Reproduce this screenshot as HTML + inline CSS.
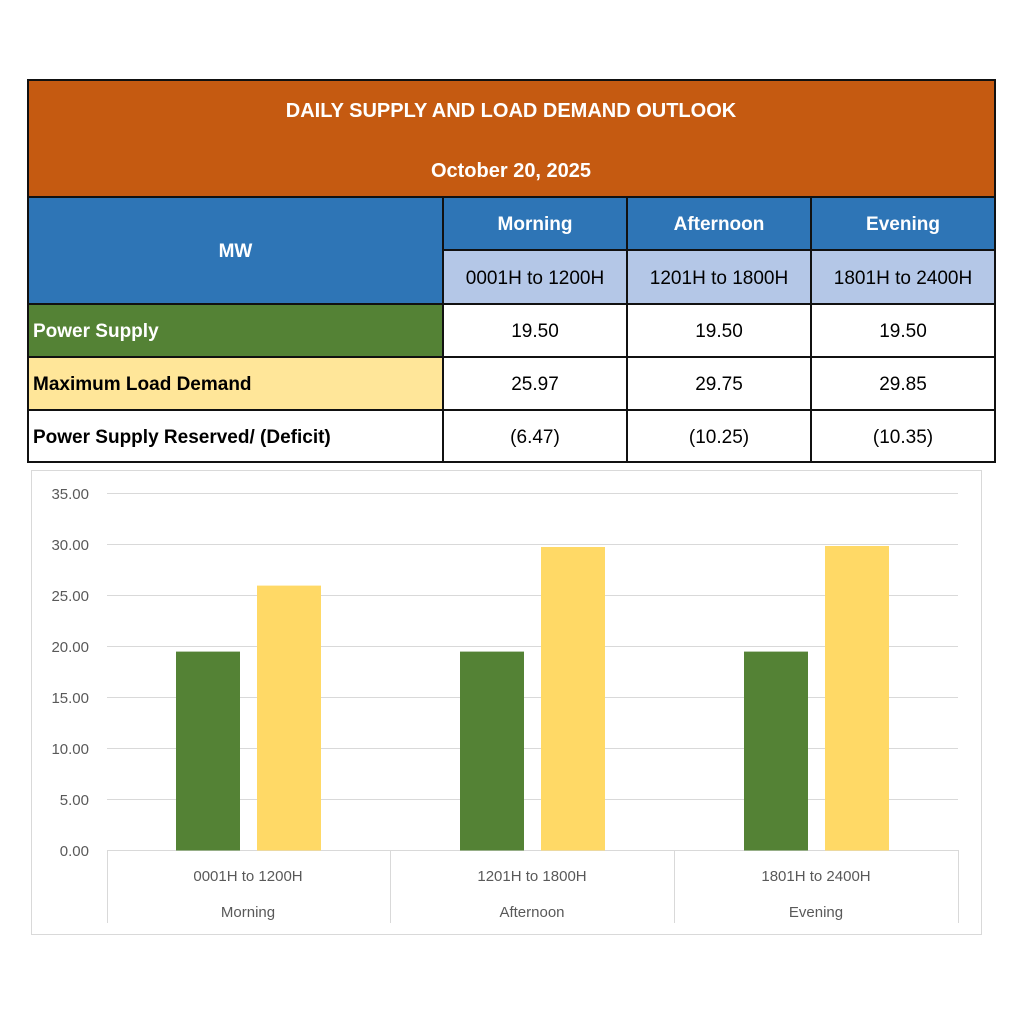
<!DOCTYPE html>
<html><head><style>
body{margin:0;width:1024px;height:1024px;background:#fff;position:relative;font-family:"Liberation Sans",sans-serif;overflow:hidden}
.c{position:absolute;box-sizing:border-box;display:flex;align-items:center;justify-content:center;font-size:19px;color:#000;padding-top:3px}
.b{font-weight:bold}
.l{justify-content:flex-start;padding-left:5px}
.ln{position:absolute;background:#111}
</style></head><body>
<div class="c b" style="left:28px;top:80px;width:966px;height:117px;background:#C55A11;color:#fff;flex-direction:column;font-size:20px;padding-top:6px"><div>DAILY SUPPLY AND LOAD DEMAND OUTLOOK</div><div style="margin-top:37px">October 20, 2025</div></div>
<div class="c b" style="left:28px;top:197px;width:415px;height:107px;background:#2E75B6;color:#fff">MW</div>
<div class="c b" style="left:443px;top:197px;width:551px;height:53px;background:#2E75B6"></div>
<div class="c b" style="left:443px;top:197px;width:184px;height:53px;color:#fff">Morning</div>
<div class="c b" style="left:627px;top:197px;width:184px;height:53px;color:#fff">Afternoon</div>
<div class="c b" style="left:811px;top:197px;width:184px;height:53px;color:#fff">Evening</div>
<div class="c" style="left:443px;top:250px;width:551px;height:54px;background:#B4C7E7"></div>
<div class="c" style="left:443px;top:250px;width:184px;height:54px">0001H to 1200H</div>
<div class="c" style="left:627px;top:250px;width:184px;height:54px">1201H to 1800H</div>
<div class="c" style="left:811px;top:250px;width:184px;height:54px">1801H to 2400H</div>
<div class="c b l" style="left:28px;top:304px;width:415px;height:53px;background:#548235;color:#fff">Power Supply</div>
<div class="c b l" style="left:28px;top:357px;width:415px;height:53px;background:#FFE699">Maximum Load Demand</div>
<div class="c b l" style="left:28px;top:410px;width:415px;height:52px">Power Supply Reserved/ (Deficit)</div>
<div class="c" style="left:443px;top:304px;width:184px;height:53px">19.50</div>
<div class="c" style="left:627px;top:304px;width:184px;height:53px">19.50</div>
<div class="c" style="left:811px;top:304px;width:184px;height:53px">19.50</div>
<div class="c" style="left:443px;top:357px;width:184px;height:53px">25.97</div>
<div class="c" style="left:627px;top:357px;width:184px;height:53px">29.75</div>
<div class="c" style="left:811px;top:357px;width:184px;height:53px">29.85</div>
<div class="c" style="left:443px;top:410px;width:184px;height:52px">(6.47)</div>
<div class="c" style="left:627px;top:410px;width:184px;height:52px">(10.25)</div>
<div class="c" style="left:811px;top:410px;width:184px;height:52px">(10.35)</div>
<div class="ln" style="left:27px;top:79px;width:969px;height:2px"></div>
<div class="ln" style="left:27px;top:196px;width:969px;height:2px"></div>
<div class="ln" style="left:442px;top:249px;width:554px;height:2px"></div>
<div class="ln" style="left:27px;top:303px;width:969px;height:2px"></div>
<div class="ln" style="left:27px;top:356px;width:969px;height:2px"></div>
<div class="ln" style="left:27px;top:409px;width:969px;height:2px"></div>
<div class="ln" style="left:27px;top:461px;width:969px;height:2px"></div>
<div class="ln" style="left:27px;top:79px;width:2px;height:384px"></div>
<div class="ln" style="left:994px;top:79px;width:2px;height:384px"></div>
<div class="ln" style="left:442px;top:197px;width:2px;height:266px"></div>
<div class="ln" style="left:626px;top:197px;width:2px;height:266px"></div>
<div class="ln" style="left:810px;top:197px;width:2px;height:266px"></div>
<svg style="position:absolute;left:0;top:0" width="1024" height="1024">
<rect x="31.5" y="470.5" width="950" height="464" fill="#fff" stroke="#d9d9d9"/>
<g stroke="#d9d9d9" stroke-width="1">
<line x1="107" x2="958" y1="493.5" y2="493.5"/><line x1="107" x2="958" y1="544.5" y2="544.5"/>
<line x1="107" x2="958" y1="595.5" y2="595.5"/><line x1="107" x2="958" y1="646.5" y2="646.5"/>
<line x1="107" x2="958" y1="697.5" y2="697.5"/><line x1="107" x2="958" y1="748.5" y2="748.5"/>
<line x1="107" x2="958" y1="799.5" y2="799.5"/><line x1="107" x2="958" y1="850.5" y2="850.5"/>
<line x1="107.5" x2="107.5" y1="850" y2="923"/><line x1="390.5" x2="390.5" y1="850" y2="923"/>
<line x1="674.5" x2="674.5" y1="850" y2="923"/><line x1="958.5" x2="958.5" y1="850" y2="923"/>
</g>
<g fill="#548235"><rect x="176" y="651.6" width="64" height="198.9"/><rect x="460" y="651.6" width="64" height="198.9"/><rect x="744" y="651.6" width="64" height="198.9"/></g>
<g fill="#FFD966"><rect x="257" y="585.6" width="64" height="264.9"/><rect x="541" y="547.0" width="64" height="303.5"/><rect x="825" y="546.0" width="64" height="304.5"/></g>
<g font-family="Liberation Sans, sans-serif" font-size="15" fill="#595959" text-anchor="end">
<text x="89" y="499">35.00</text><text x="89" y="550">30.00</text><text x="89" y="601">25.00</text>
<text x="89" y="652">20.00</text><text x="89" y="703">15.00</text><text x="89" y="754">10.00</text>
<text x="89" y="805">5.00</text><text x="89" y="856">0.00</text>
</g>
<g font-family="Liberation Sans, sans-serif" font-size="15" fill="#595959" text-anchor="middle">
<text x="248" y="881">0001H to 1200H</text><text x="532" y="881">1201H to 1800H</text><text x="816" y="881">1801H to 2400H</text>
<text x="248" y="917">Morning</text><text x="532" y="917">Afternoon</text><text x="816" y="917">Evening</text>
</g>
</svg>
</body></html>
